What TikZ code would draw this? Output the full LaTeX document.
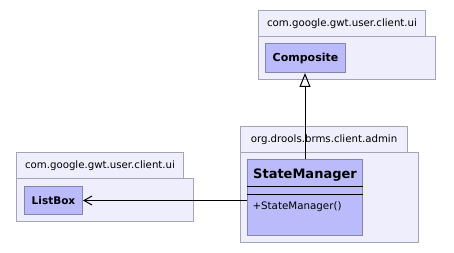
\documentclass[tikz,border=0pt]{standalone}
\usepackage{fontspec}
\setmainfont{DejaVu Sans}
\usetikzlibrary{arrows.meta,positioning}

\definecolor{pkgfill}{HTML}{EEEEFC}
\definecolor{pkgline}{HTML}{A4A4B8}
\definecolor{clsfill}{HTML}{BBBBFB}
\definecolor{clsline}{HTML}{8484AC}

\begin{document}
\begin{tikzpicture}[x=1pt, y=-1pt, line width=1pt,
    pkgtab/.style={draw=pkgline, fill=pkgfill, anchor=north west, inner sep=0pt,
        minimum width=167pt, minimum height=26pt, font=\fontsize{10.2}{12}\selectfont},
    pkgbody/.style={draw=pkgline, fill=pkgfill, inner sep=0pt},
    umlclass/.style={draw=clsline, fill=clsfill, inner sep=0pt},
    generalize/.style={-{Triangle[open, length=14pt, width=11pt]}},
    navigable/.style={-{Straight Barb[length=8pt, width=9pt]}}]
    \useasboundingbox (0,0) rectangle (454,253);

    % Packages {body first, then the tab on top}
    \node [pkgbody, anchor=north west, minimum width=177pt, minimum height=43pt] (uiTopBody) at (258,36) {};
    \node [pkgtab]  (uiTop)  at (258,10)  {com.google.gwt.user.client.ui};
    \node [pkgbody, anchor=north west, minimum width=178pt, minimum height=90pt] (adminBody) at (240,152) {};
    \node [pkgtab]  (admin)  at (240,126) {org.drools.brms.client.admin};
    \node [pkgbody, anchor=north west, minimum width=177pt, minimum height=43pt] (uiLeftBody) at (16,178) {};
    \node [pkgtab]  (uiLeft) at (16,152)  {com.google.gwt.user.client.ui};

    % Classes
    \node [umlclass, minimum width=80pt, minimum height=29pt, font=\bfseries\fontsize{11}{13}\selectfont]
        (comp) [below right=7pt and 7pt of uiTopBody.north west] {Composite};
    \node [umlclass, minimum width=58pt, minimum height=28pt, font=\bfseries\fontsize{10.5}{12}\selectfont]
        (lb) [below right=8pt and 8pt of uiLeftBody.north west] {ListBox};
    \node [umlclass, minimum width=115pt, minimum height=76pt]
        (sm) [below right=7pt and 7pt of adminBody.north west] {};

    % StateManager compartments
    \node [font=\bfseries\fontsize{13}{15}\selectfont, inner sep=0pt] (smName) [below=9pt of sm.north] {StateManager};
    \draw ([yshift=-28pt]sm.north west) -- ([yshift=-28pt]sm.north east);
    \draw ([yshift=-36pt]sm.north west) -- ([yshift=-36pt]sm.north east);
    \node [font=\fontsize{10.3}{12}\selectfont, inner sep=0pt, anchor=west] (smOp)
        at ([xshift=5pt, yshift=-48pt]sm.north west) {+StateManager()};

    % Paths
    \path [generalize] (sm.north) edge (sm.north |- comp.south);
    \path [navigable]  (sm.west |- lb.east) edge (lb.east);

\end{tikzpicture}
\end{document}
